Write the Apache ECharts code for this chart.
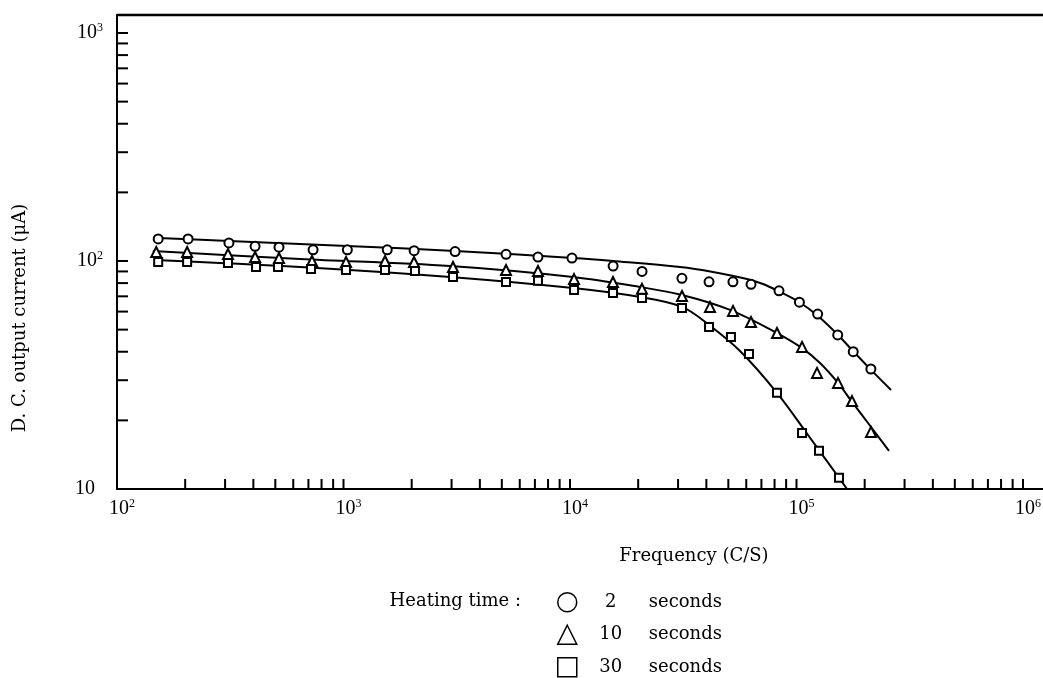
<!DOCTYPE html>
<html>
<head>
<meta charset="utf-8">
<script src="https://cdn.jsdelivr.net/npm/echarts@6/dist/echarts.min.js"></script>
<style>
html,body{margin:0;padding:0;background:#fff;}
#chart{width:1043px;height:678px;}
</style>
</head>
<body>
<div id="chart"></div>
<script>
// ---- data ----
const seriesNames = ['2 seconds', '10 seconds', '30 seconds'];

// 2 seconds (circles)
const freq2s = [152,206,312,407,519,734,1040,1560,2050,3110,5220,7220,10200,15500,20800,31200,41100,52400,63000,83700,103000,124000,152000,178000,213000];
const curr2s = [125,125,120,116,115,112,112,112,111,110,107,104,103,95,90,84,81,81,79,74,66,58.5,47.4,40,33.6];
const fitFreq2s = [152,312,1036,3107,10310,15480,30600,42790,60460,71140,82840,102600,124400,152500,177600,213300,261400];
const fitCurr2s = [126.1,122.4,116.4,110.6,103.1,100,94.1,89.5,83.4,79.3,73.9,66.1,57.4,47.4,40.3,33.3,27.2];

// 10 seconds (triangles)
const freq10s = [149,204,309,407,519,726,1026,1525,2048,3044,5218,7222,10420,15480,20790,31220,41500,52440,62970,82000,105800,123200,152500,175800,213300];
const curr10s = [109.5,109.5,107.4,104.1,103.1,100,99,100,99,94.1,91.3,90.4,83.3,80.9,75.5,70.2,62.9,60.4,54.0,48.3,42.0,32.3,29.2,24.3,17.8];
const fitFreq10s = [144,643,2953,10310,20380,31220,50850,82000,105800,127000,152500,175800,213300,256100];
const fitCurr10s = [110.6,102.1,95.1,85.1,76.9,70.9,61.0,48.3,41.5,35.7,29.2,24.1,18.7,14.7];

// 30 seconds (squares)
const freq30s = [152,204,309,411,514,719,1026,1525,2069,3044,5218,7222,10420,15480,20790,31220,41100,51360,61700,82000,105800,125700,154000];
const curr30s = [99,99,98,94.1,94.1,92.2,91.3,91.3,90.4,85.1,80.9,82,74.6,72.4,68.8,62.2,51.3,46.4,39.1,26.4,17.6,14.7,11.2];
const fitFreq30s = [147,643,2953,10310,20380,31220,41100,56320,82000,112400,154000,167100];
const fitCurr30s = [101,94.1,85.1,76.1,69.5,62.9,52.4,40.3,26.4,17.25,11.2,10];

// axis ticks
const tickMantissas = [2,3,4,5,6,7,8,9,10];
const xDecades = [100,1000,10000,100000];
const yDecades = [10,100];
const xMin = 100, xMax = 1000000, yMin = 10, yMax = 1000;

const xTickVals = [];
xDecades.forEach(d => tickMantissas.forEach(m => xTickVals.push(m * d)));
const yTickVals = [];
yDecades.forEach(d => tickMantissas.forEach(m => yTickVals.push(m * d)));

const zip = (a, b) => a.map((v, i) => [v, b[i]]);

const serif = 'DejaVu Serif';
const numFont = 'Liberation Serif';

const chart = echarts.init(document.getElementById('chart'), null, {renderer: 'canvas'});

function powLabel(v) {
  const e = Math.round(Math.log10(v));
  if (e === 1) return '{m|10}';
  return '{n|10}{s|' + e + '}';
}

const richNum = {
  n: {fontSize: 20, fontFamily: numFont, color: '#000', lineHeight: 22},
  m: {fontSize: 20, fontFamily: numFont, color: '#000', lineHeight: 22, padding: [0, 8, 0, 0]},
  s: {fontSize: 12, fontFamily: numFont, color: '#000', lineHeight: 16, verticalAlign: 'top'}
};

const tickSeries = (data, dir) => ({
  type: 'custom',
  coordinateSystem: 'cartesian2d',
  data: data,
  silent: true,
  clip: false,
  z: 5,
  renderItem: function (params, api) {
    const p = api.coord([api.value(0), api.value(1)]);
    const shape = dir === 'x'
      ? {x1: p[0], y1: p[1], x2: p[0], y2: p[1] - 10}
      : {x1: p[0], y1: p[1], x2: p[0] + 11, y2: p[1]};
    return {type: 'line', shape: shape, style: {stroke: '#000', lineWidth: 2}};
  }
});

const markerStyle = {color: '#fff', borderColor: '#000', borderWidth: 2, opacity: 1};
const fitLine = (f, c) => ({
  type: 'line',
  data: zip(f, c),
  smooth: 0.35,
  showSymbol: false,
  symbol: 'none',
  lineStyle: {color: '#000', width: 2, opacity: 1},
  silent: true,
  z: 2
});

const option = {
  animation: false,
  backgroundColor: '#fff',
  grid: {left: 117, right: 20, top: 33, bottom: 189, containLabel: false, outerBoundsMode: 'none'},
  xAxis: {
    type: 'log', logBase: 10, min: xMin, max: xMax,
    axisLine: {show: true, lineStyle: {color: '#000', width: 2}},
    axisTick: {show: false},
    splitLine: {show: false},
    minorTick: {show: false},
    axisLabel: {
      margin: 9, padding: [0, 0, 0, 10],
      formatter: powLabel, rich: richNum
    }
  },
  yAxis: {
    type: 'log', logBase: 10, min: yMin, max: yMax,
    axisLine: {show: true, lineStyle: {color: '#000', width: 2}},
    axisTick: {show: false},
    splitLine: {show: false},
    minorTick: {show: false},
    axisLabel: {
      margin: 14,
      formatter: powLabel, rich: richNum
    }
  },
  legend: {
    orient: 'vertical', left: 557, top: 592, padding: 0,
    itemWidth: 19, itemHeight: 19, itemGap: 12,
    selectedMode: false,
    data: [
      {name: seriesNames[0], icon: 'circle', itemStyle: {color: '#fff', borderColor: '#000', borderWidth: 1.5, opacity: 1}},
      {name: seriesNames[1], icon: 'triangle', itemStyle: {color: '#fff', borderColor: '#000', borderWidth: 1.5, opacity: 1}},
      {name: seriesNames[2], icon: 'rect', itemStyle: {color: '#fff', borderColor: '#000', borderWidth: 1.5, opacity: 1}}
    ],
    formatter: function (name) {
      const parts = name.split(' ');
      return '{n|' + parts[0] + '}{s|' + parts[1] + '}';
    },
    textStyle: {
      color: '#000', fontFamily: serif, fontSize: 18,
      rich: {
        n: {width: 58, align: 'right', color: '#000', fontFamily: serif, fontSize: 18, lineHeight: 20},
        s: {padding: [0, 0, 0, 9], color: '#000', fontFamily: serif, fontSize: 18, lineHeight: 20}
      }
    }
  },
  graphic: [
    {type: 'line', shape: {x1: 117, y1: 15, x2: 1043, y2: 15}, style: {stroke: '#000', lineWidth: 2.5}},
    {type: 'line', shape: {x1: 117, y1: 14, x2: 117, y2: 34}, style: {stroke: '#000', lineWidth: 2}},
    {type: 'line', shape: {x1: 1022, y1: 489, x2: 1043, y2: 489}, style: {stroke: '#000', lineWidth: 2}},
    {type: 'text', x: 20, y: 318, rotation: Math.PI / 2,
      style: {text: 'D. C. output current (μA)', align: 'center', verticalAlign: 'middle',
        font: '18px "DejaVu Serif"', fill: '#000'}},
    {type: 'text', x: 694, y: 556,
      style: {text: 'Frequency (C/S)', align: 'center', verticalAlign: 'middle',
        font: '18px "DejaVu Serif"', fill: '#000'}},
    {type: 'text', x: 521, y: 601,
      style: {text: 'Heating time :', align: 'right', verticalAlign: 'middle',
        font: '18px "DejaVu Serif"', fill: '#000'}}
  ],
  series: [
    fitLine(fitFreq2s, fitCurr2s),
    fitLine(fitFreq10s, fitCurr10s),
    fitLine(fitFreq30s, fitCurr30s),
    {name: seriesNames[0], type: 'scatter', symbol: 'circle', symbolSize: 9, data: zip(freq2s, curr2s), itemStyle: markerStyle, z: 4},
    {name: seriesNames[1], type: 'scatter', symbol: 'triangle', symbolSize: 10, data: zip(freq10s, curr10s), itemStyle: markerStyle, z: 4},
    {name: seriesNames[2], type: 'scatter', symbol: 'rect', symbolSize: 8, data: zip(freq30s, curr30s), itemStyle: markerStyle, z: 4},
    tickSeries(xTickVals.map(v => [v, yMin]), 'x'),
    tickSeries(yTickVals.map(v => [xMin, v]), 'y')
  ]
};

chart.setOption(option);
</script>
</body>
</html>
